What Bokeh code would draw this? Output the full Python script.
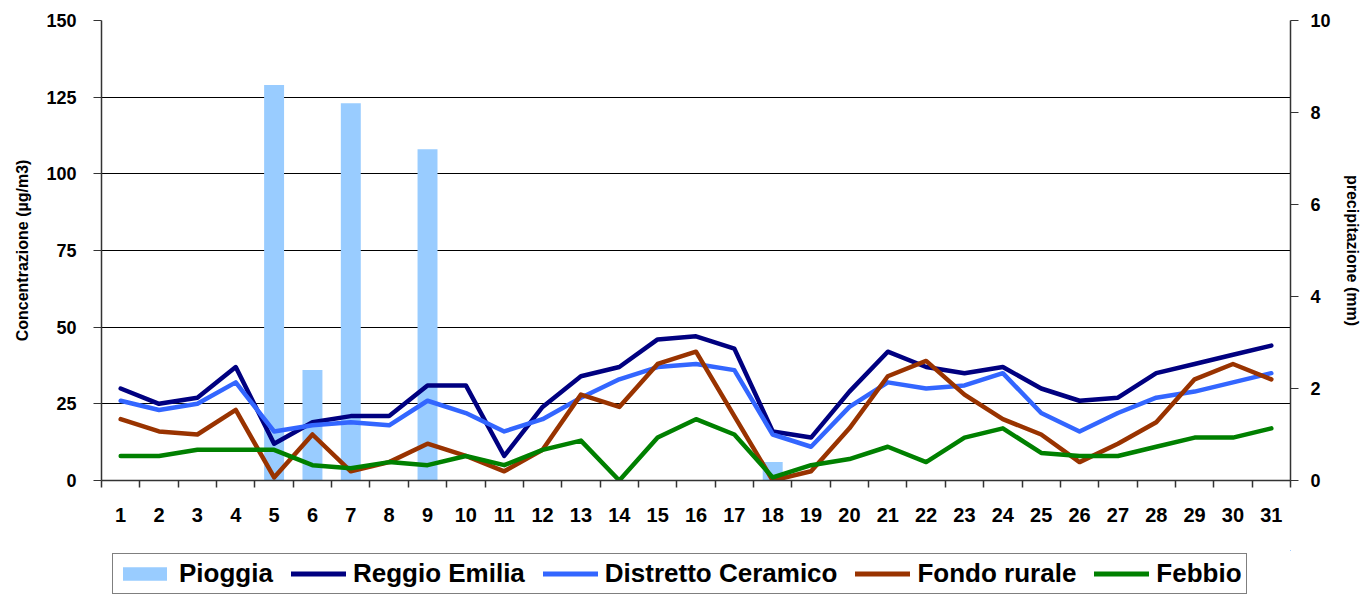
from bokeh.plotting import figure
from bokeh.layouts import column
from bokeh.models import Range1d, LinearAxis, FixedTicker, Legend, LegendItem
from bokeh.embed import file_html
from bokeh.resources import INLINE

days = list(range(1, 32))
day_labels = [str(d) for d in days]
rain_mm = [0, 0, 0, 0, 8.6, 2.4, 8.2, 0, 7.2, 0, 0, 0, 0, 0, 0, 0, 0, 0.4,
           0, 0, 0, 0, 0, 0, 0, 0, 0, 0, 0, 0, 0]
reggio_emilia = [30, 25, 27, 37, 12, 19, 21, 21, 31, 31, 8, 24, 34, 37, 46, 47,
                 43, 16, 14, 29, 42, 37, 35, 37, 30, 26, 27, 35, 38, 41, 44]
distretto_ceramico = [26, 23, 25, 32, 16, 18, 19, 18, 26, 22, 16, 20, 27, 33, 37, 38,
                      36, 15, 11, 24, 32, 30, 31, 35, 22, 16, 22, 27, 29, 32, 35]
fondo_rurale = [20, 16, 15, 23, 1, 15, 3, 6, 12, 8, 3, 10, 28, 24, 38, 42,
                21, 0, 3, 17, 34, 39, 28, 20, 15, 6, 12, 19, 33, 38, 33]
febbio = [8, 8, 10, 10, 10, 5, 4, 6, 5, 8, 5, 10, 13, 0, 14, 20,
          15, 1, 5, 7, 11, 6, 14, 17, 9, 8, 8, 11, 14, 14, 17]
left_ticks = [0, 25, 50, 75, 100, 125, 150]
right_ticks = [0, 2, 4, 6, 8, 10]

FONT = "Liberation Sans"

p = figure(frame_width=1189, frame_height=460, x_range=Range1d(0.5, 31.5), y_range=Range1d(0, 150),
           output_backend="svg", toolbar_location=None,
           min_border_left=101, min_border_right=82, min_border_top=20, min_border_bottom=70)
p.extra_y_ranges = {"rain": Range1d(0, 10)}
p.outline_line_color = None
p.background_fill_color = "white"

# x axis
xa = p.xaxis[0]
xa.ticker = FixedTicker(ticks=days, minor_ticks=[d - 0.5 for d in days] + [31.5])
xa.major_label_overrides = {d: s for d, s in zip(days, day_labels)}
xa.major_tick_line_color = None
xa.major_tick_in = 0
xa.major_tick_out = 0
xa.minor_tick_in = 0
xa.minor_tick_out = 7
xa.minor_tick_line_color = "#333333"
xa.minor_tick_line_width = 1.5
xa.axis_line_color = "#333333"
xa.axis_line_width = 1.5
xa.major_label_text_font = FONT
xa.major_label_text_font_style = "bold"
xa.major_label_text_font_size = "20px"
xa.major_label_text_color = "black"
xa.major_label_standoff = 20

# left axis
ya = p.yaxis[0]
ya.ticker = FixedTicker(ticks=left_ticks)
ya.minor_tick_line_color = None
ya.major_tick_in = 0
ya.major_tick_out = 8
ya.major_tick_line_color = "#333333"
ya.axis_line_color = "#333333"
ya.axis_line_width = 1.5
ya.major_label_text_font = FONT
ya.major_label_text_font_style = "bold"
ya.major_label_text_font_size = "18px"
ya.major_label_text_color = "black"
ya.major_label_standoff = 17
ya.axis_label = "Concentrazione (µg/m3)"
ya.axis_label_text_font = FONT
ya.axis_label_text_font_style = "bold"
ya.axis_label_text_font_size = "16px"
ya.axis_label_text_color = "black"
ya.axis_label_standoff = 12

# right axis
ra = LinearAxis(y_range_name="rain", ticker=FixedTicker(ticks=right_ticks))
ra.minor_tick_line_color = None
ra.major_tick_in = 0
ra.major_tick_out = 8
ra.major_tick_line_color = "#333333"
ra.axis_line_color = "#333333"
ra.axis_line_width = 1.5
ra.major_label_text_font = FONT
ra.major_label_text_font_style = "bold"
ra.major_label_text_font_size = "18px"
ra.major_label_text_color = "black"
ra.major_label_standoff = 12
ra.axis_label = "precipitazione (mm)"
ra.axis_label_text_font = FONT
ra.axis_label_text_font_style = "bold"
ra.axis_label_text_font_size = "16px"
ra.axis_label_text_color = "black"
ra.axis_label_standoff = 10
p.add_layout(ra, "right")

p.xgrid.grid_line_color = None
p.ygrid.ticker = FixedTicker(ticks=left_ticks)
p.ygrid.grid_line_color = "black"
p.ygrid.grid_line_width = 1

BAR_COLOR = "#99CCFF"
series = [("Reggio Emilia", reggio_emilia, "#000080"),
          ("Distretto Ceramico", distretto_ceramico, "#3366FF"),
          ("Fondo rurale", fondo_rurale, "#993300"),
          ("Febbio", febbio, "#008000")]

p.vbar(x=days, top=rain_mm, width=0.52, fill_color=BAR_COLOR, line_color=None,
       y_range_name="rain")
for name, vals, col in series:
    p.line(days, vals, line_color=col, line_width=4.5, line_cap="round", line_join="round")

# legend strip below the chart (its frame is aligned with the chart's frame);
# the series are re-plotted there out of view only to give the legend its keys
lg = figure(frame_width=1189, frame_height=44, x_range=Range1d(-200, -100), y_range=Range1d(-200, -100),
            output_backend="svg", toolbar_location=None,
            min_border_left=101, min_border_right=82, min_border_top=0, min_border_bottom=0)
lg.axis.visible = False
lg.grid.grid_line_color = None
lg.outline_line_color = None
items = [LegendItem(label="Pioggia",
                    renderers=[lg.vbar(x=days, top=rain_mm, width=0.52,
                                       fill_color=BAR_COLOR, line_color=None)])]
for name, vals, col in series:
    r = lg.line(x=days, y=vals, line_color=col, line_width=5, line_cap="round")
    items.append(LegendItem(label=name, renderers=[r]))

legend = Legend(items=items, orientation="horizontal", location=(11, 0),
                label_text_font=FONT, label_text_font_style="bold", label_text_font_size="26px",
                label_text_color="black",
                glyph_width=55, glyph_height=17, label_standoff=7, spacing=18, padding=4,
                margin=0, border_line_color="black", border_line_width=1,
                background_fill_color="white", background_fill_alpha=1)
lg.add_layout(legend)

layout = column(p, lg, spacing=0)
open("out.html", "w").write(file_html(layout, INLINE))
